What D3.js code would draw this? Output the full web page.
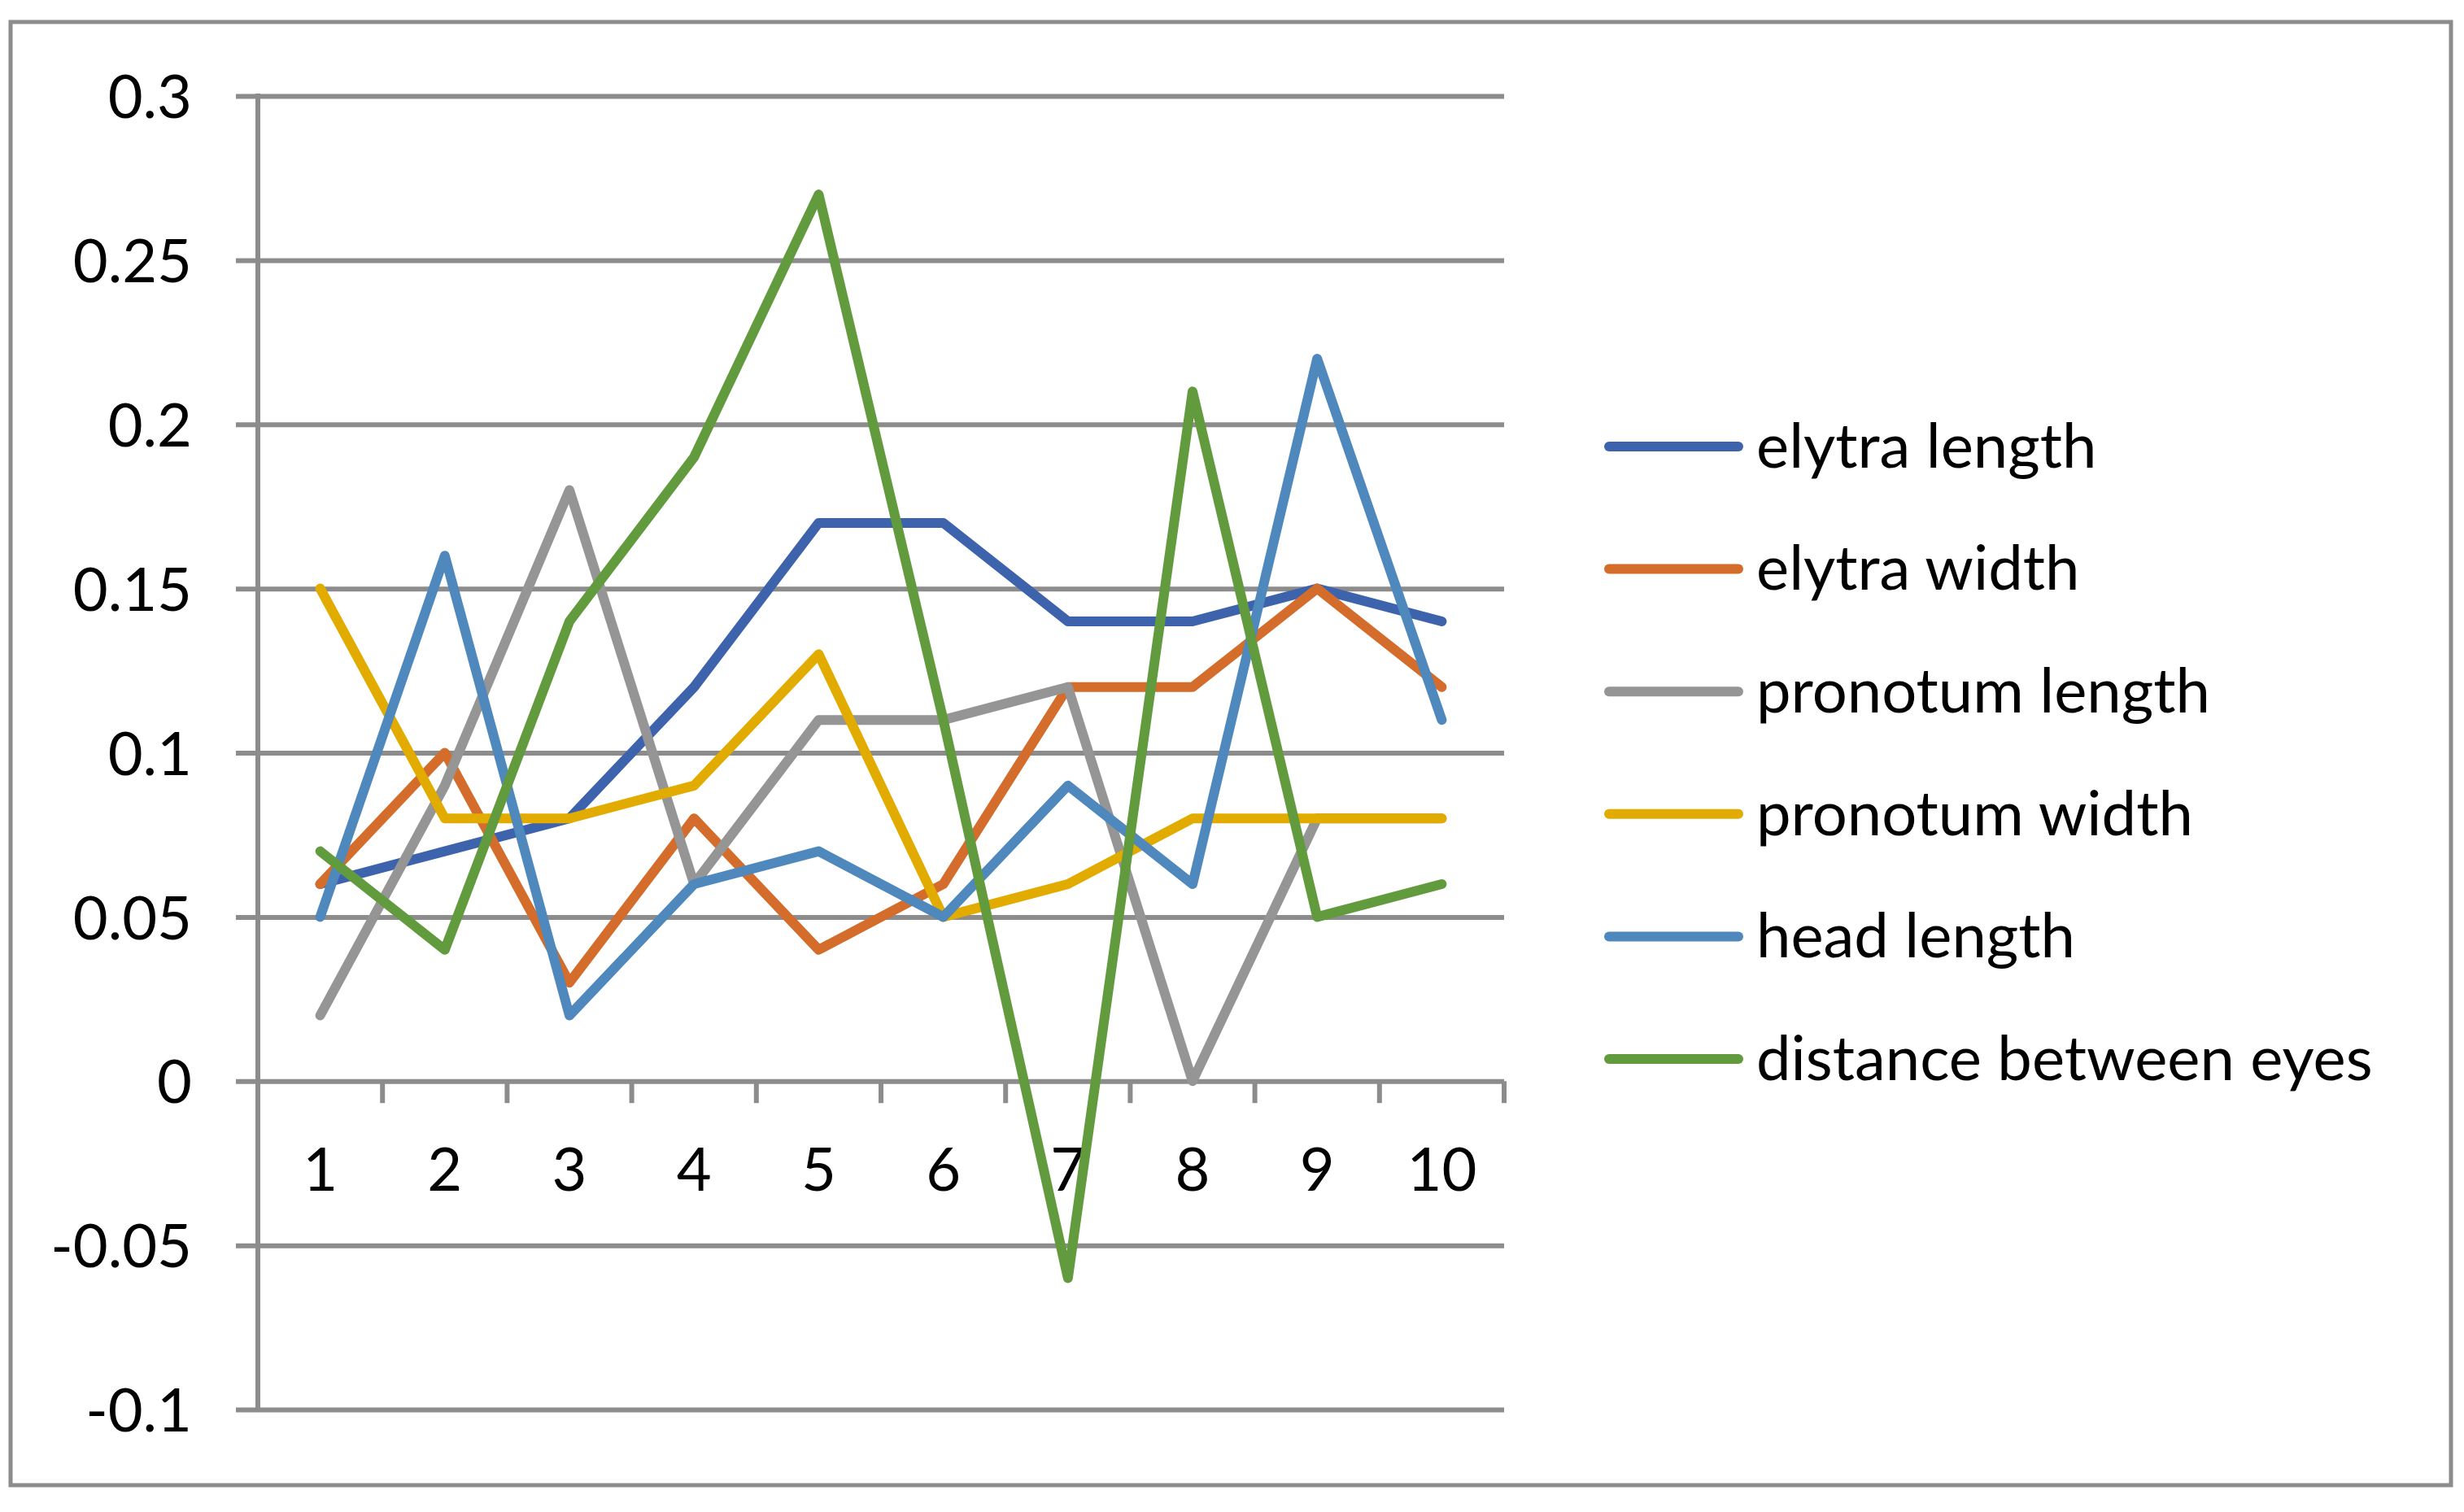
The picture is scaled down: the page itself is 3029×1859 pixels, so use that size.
<!DOCTYPE html>
<html>
<head>
<meta charset="utf-8">
<script src="https://cdn.jsdelivr.net/npm/d3@7"></script>
<style>
  html, body { margin: 0; padding: 0; background: #fff; }
  svg text { font-family: Lato, "Open Sans", sans-serif; fill: #000; }
</style>
</head>
<body>
<div id="chart"></div>
<script>
// categories (sample number)
var categories = ["1", "2", "3", "4", "5", "6", "7", "8", "9", "10"];

// series values
var elytraLength   = [0.06, 0.07, 0.08, 0.12, 0.17, 0.17, 0.14, 0.14, 0.15, 0.14];
var elytraWidth    = [0.06, 0.10, 0.03, 0.08, 0.04, 0.06, 0.12, 0.12, 0.15, 0.12];
var pronotumLength = [0.02, 0.09, 0.18, 0.06, 0.11, 0.11, 0.12, 0.00, 0.08, 0.08];
var pronotumWidth  = [0.15, 0.08, 0.08, 0.09, 0.13, 0.05, 0.06, 0.08, 0.08, 0.08];
var headLength     = [0.05, 0.16, 0.02, 0.06, 0.07, 0.05, 0.09, 0.06, 0.22, 0.11];
var eyeDistance    = [0.07, 0.04, 0.14, 0.19, 0.27, 0.11, -0.06, 0.21, 0.05, 0.06];

var seriesNames  = ["elytra length", "elytra width", "pronotum length", "pronotum width", "head length", "distance between eyes"];
var seriesColors = ["#3e63ad", "#d46d2c", "#959595", "#e2ab00", "#4e88bd", "#629a3e"];
var seriesValues = [elytraLength, elytraWidth, pronotumLength, pronotumWidth, headLength, eyeDistance];

var yTicks = [-0.1, -0.05, 0, 0.05, 0.1, 0.15, 0.2, 0.25, 0.3];

(function(){
var W = 3029, H = 1859;
// plot box (note: "top" is taken by window.top, so use other names)
var plotL = 317, plotR = 1849, plotT = 118, plotB = 1733;
var gridColor = "#8c8c8c";
var fontSize = 74;

var svg = d3.select("#chart").append("svg")
    .attr("width", W).attr("height", H);

// outer chart border
svg.append("rect")
    .attr("x", 13).attr("y", 27)
    .attr("width", 3013 - 13).attr("height", 1826 - 27)
    .attr("fill", "#fff")
    .attr("stroke", gridColor).attr("stroke-width", 5);

var x = d3.scaleBand().domain(categories).range([plotL, plotR]).padding(0);
var y = d3.scaleLinear().domain([-0.1, 0.3]).range([plotB, plotT]);

// y axis with gridlines
var yAxis = d3.axisLeft(y)
    .tickValues(yTicks)
    .tickFormat(function(d){ return String(+d.toFixed(2)); })
    .tickSizeInner(-(plotR - plotL))
    .tickSizeOuter(0)
    .tickPadding(plotL - 236);

var gy = svg.append("g").attr("transform", "translate(" + plotL + ",0)").call(yAxis);
gy.select(".domain").remove();
gy.selectAll(".tick line")
    .attr("x1", -27)
    .attr("stroke", gridColor).attr("stroke-width", 6);
gy.selectAll(".tick text")
    .attr("font-size", fontSize)
    .attr("dy", "0.36em")
    .style("font-family", "Lato, 'Open Sans', sans-serif");

// vertical axis line
svg.append("line")
    .attr("x1", plotL).attr("x2", plotL)
    .attr("y1", y(0.3) - 3).attr("y2", y(-0.1) + 3)
    .attr("stroke", gridColor).attr("stroke-width", 6);

// category boundary ticks on the zero line
var bounds = categories.map(function(c){ return x(c); }).concat([x.range()[1]]);
svg.selectAll("line.xtick").data(bounds).enter().append("line")
    .attr("class", "xtick")
    .attr("x1", function(d){ return d; }).attr("x2", function(d){ return d; })
    .attr("y1", y(0)).attr("y2", y(0) + 27)
    .attr("stroke", gridColor).attr("stroke-width", 6);

// category labels
svg.selectAll("text.xlab").data(categories).enter().append("text")
    .attr("class", "xlab")
    .attr("x", function(d){ return x(d) + x.bandwidth() / 2; })
    .attr("y", 1437)
    .attr("dy", "0.36em")
    .attr("text-anchor", "middle")
    .attr("font-size", fontSize)
    .text(function(d){ return d; });

// series lines
var line = d3.line()
    .x(function(d, i){ return x(categories[i]) + x.bandwidth() / 2; })
    .y(function(d){ return y(d); });

svg.selectAll("path.series").data(seriesValues).enter().append("path")
    .attr("class", "series")
    .attr("d", line)
    .attr("fill", "none")
    .attr("stroke", function(d, i){ return seriesColors[i]; })
    .attr("stroke-width", 12)
    .attr("stroke-linejoin", "round")
    .attr("stroke-linecap", "round");

// legend
var legY = d3.scalePoint().domain(seriesNames).range([549, 1302]);
var leg = svg.selectAll("g.leg").data(seriesNames).enter().append("g")
    .attr("class", "leg")
    .attr("transform", function(d){ return "translate(0," + legY(d) + ")"; });
leg.append("line")
    .attr("x1", 1978).attr("x2", 2137)
    .attr("y1", 0).attr("y2", 0)
    .attr("stroke", function(d, i){ return seriesColors[i]; })
    .attr("stroke-width", 12)
    .attr("stroke-linecap", "round");
leg.append("text")
    .attr("x", 2159).attr("y", 0)
    .attr("dy", "0.34em")
    .attr("font-size", 76)
    .text(function(d){ return d; });
})();
</script>
</body>
</html>
